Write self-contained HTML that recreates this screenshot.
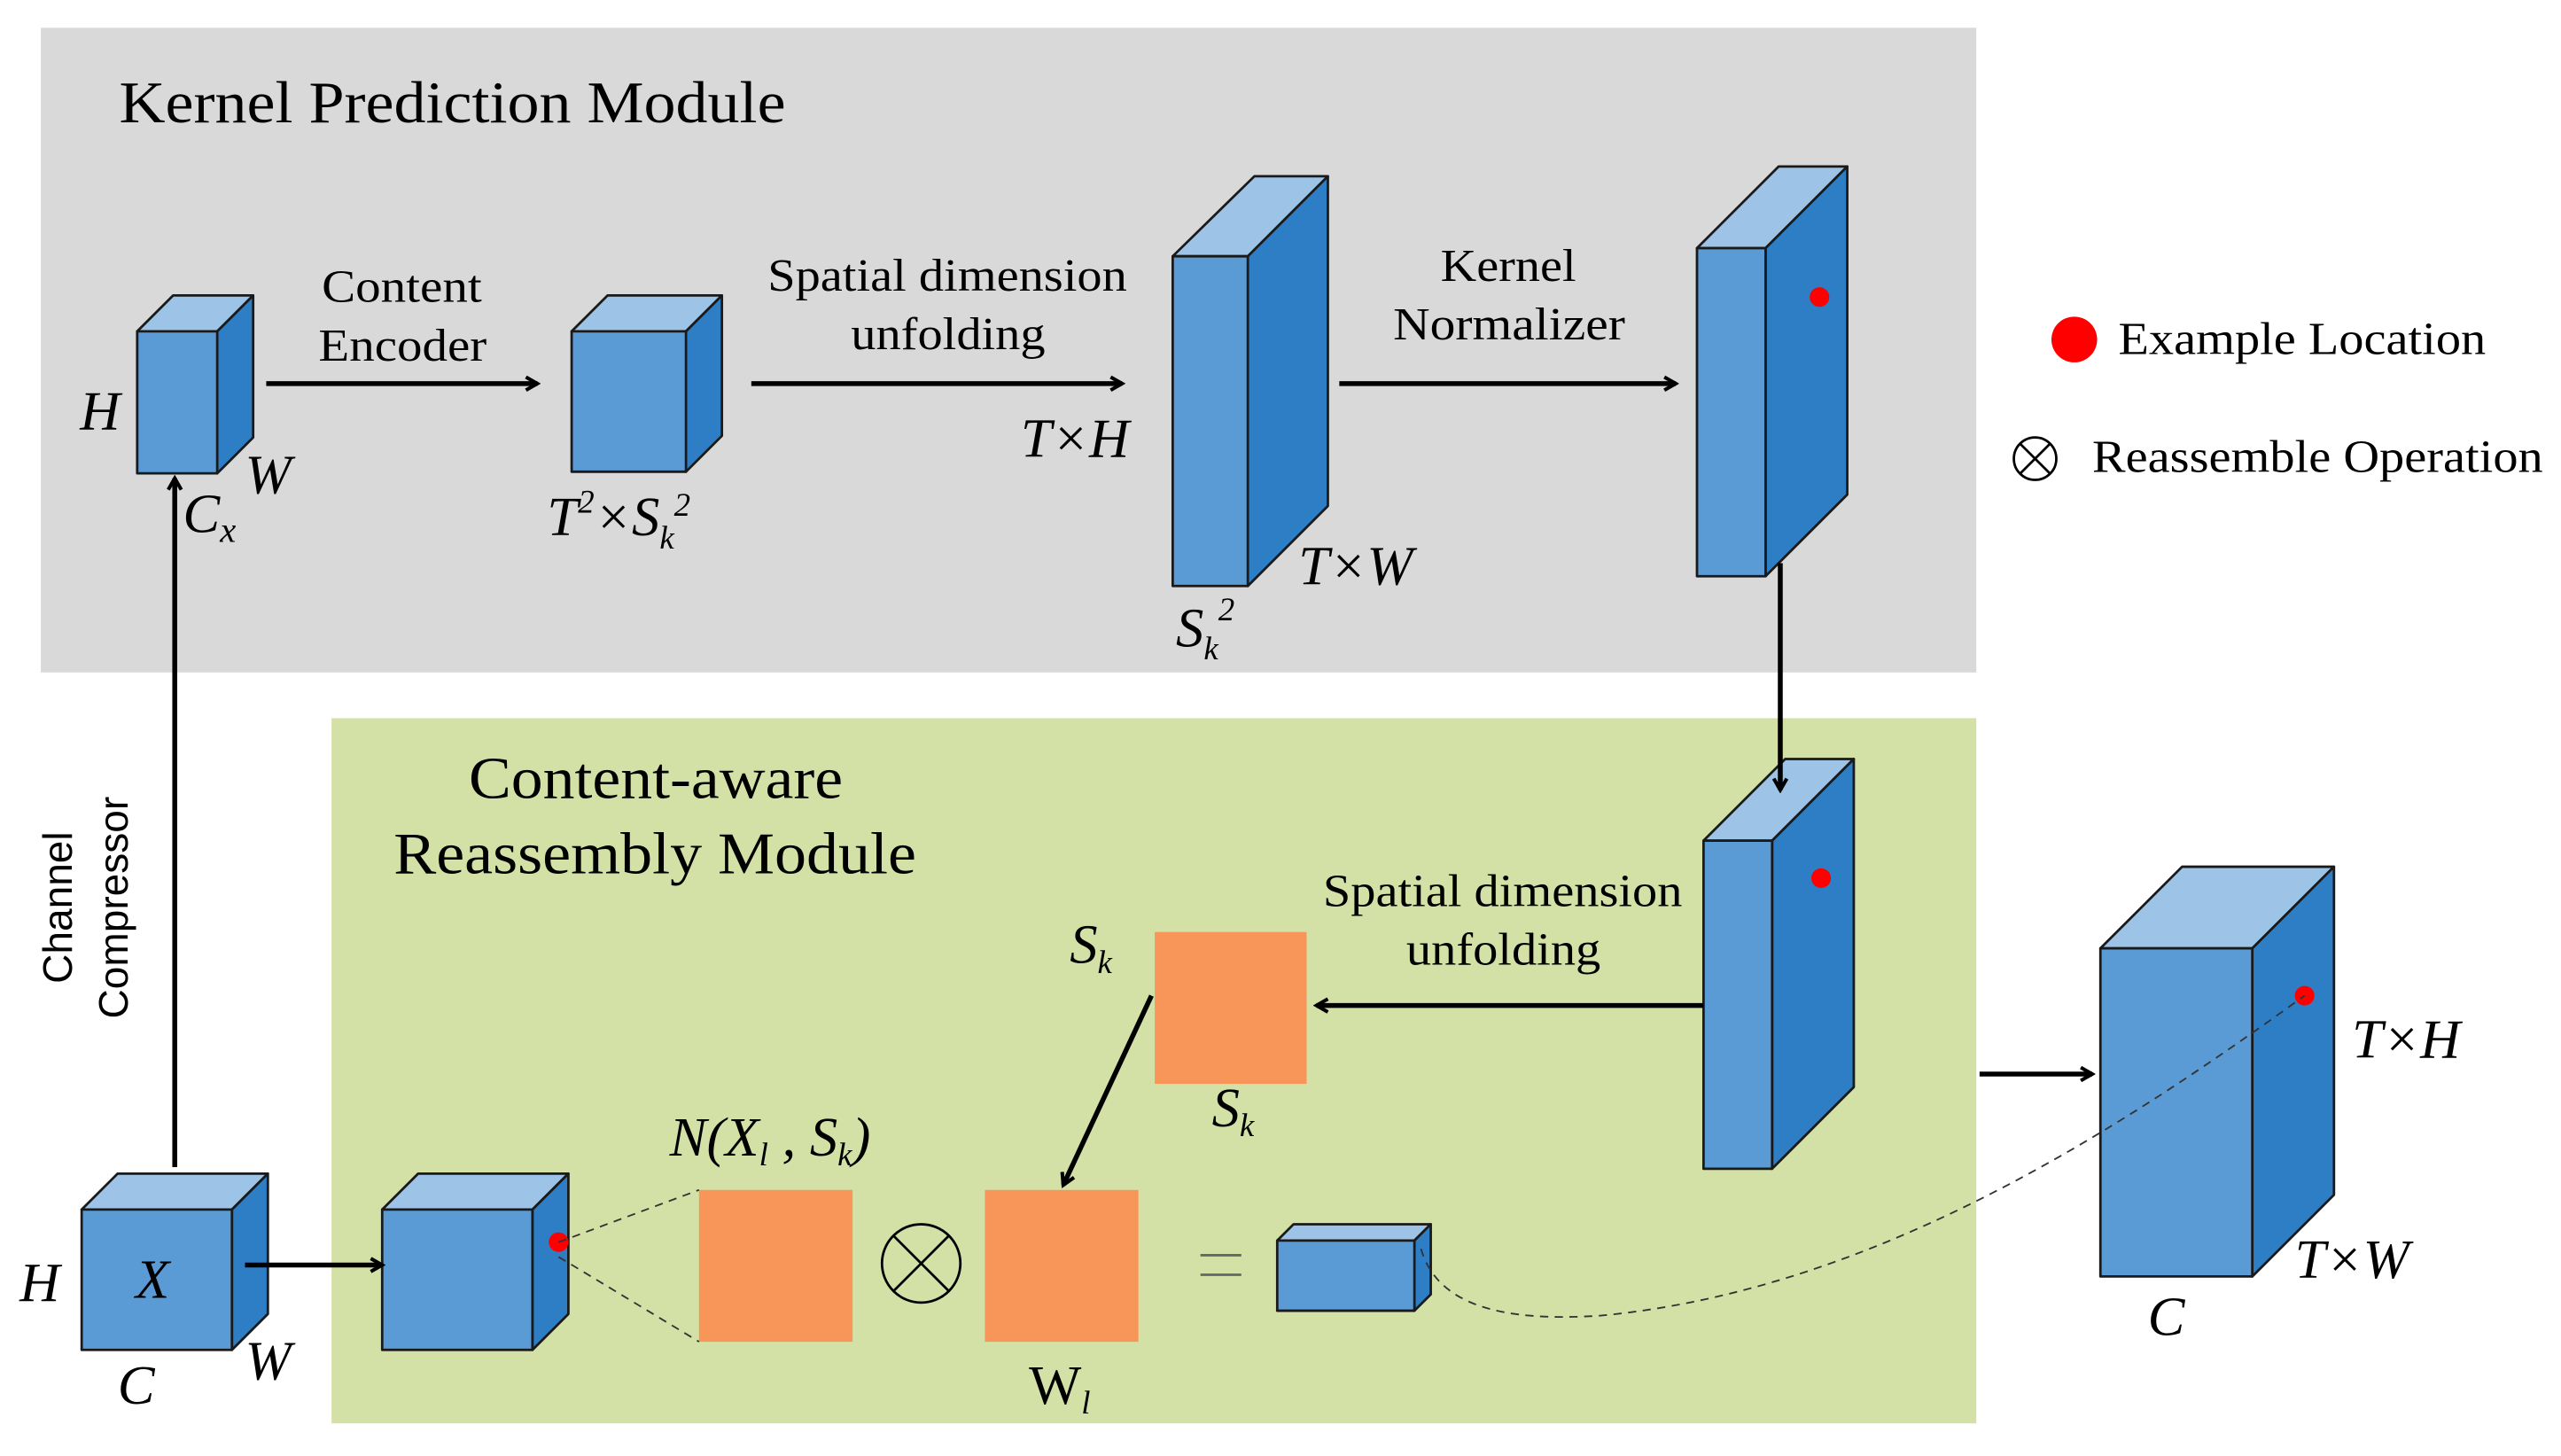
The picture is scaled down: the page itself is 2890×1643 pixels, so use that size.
<!DOCTYPE html>
<html><head><meta charset="utf-8"><style>
html,body{margin:0;padding:0;background:#fff;}
svg{display:block;}
svg text{font-family:"Liberation Serif","Times New Roman",Times,serif;fill:#000;}
svg text.sans{font-family:"Liberation Sans",Arial,sans-serif;}
.it{font-style:italic;}
</style></head><body>
<svg width="2890" height="1643" viewBox="0 0 1568 892" preserveAspectRatio="none" xmlns="http://www.w3.org/2000/svg" font-family="Liberation Serif, serif">
<defs>
<marker id="ah" markerWidth="10" markerHeight="10" refX="8" refY="5" orient="auto" markerUnits="userSpaceOnUse">
<path d="M1,1 L8,5 L1,9" fill="none" stroke="#000" stroke-width="2.2"/>
</marker>
</defs>
<rect x="25" y="17" width="1185" height="395" fill="#d9d9d9"/>
<rect x="203" y="440" width="1007" height="432" fill="#d3e0a6"/>

<text x="73" y="75" font-size="36" textLength="408" lengthAdjust="spacingAndGlyphs">Kernel Prediction Module</text>

<g stroke="#1a1a1a" stroke-width="1.5" stroke-linejoin="round">
<polygon points="84,203 106,181 155,181 133,203" fill="#9dc3e6"/>
<polygon points="133,203 155,181 155,268 133,290" fill="#2e7ec6"/>
<rect x="84" y="203" width="49" height="87" fill="#5b9bd5"/>
<polygon points="350,203 372,181 442,181 420,203" fill="#9dc3e6"/>
<polygon points="420,203 442,181 442,267 420,289" fill="#2e7ec6"/>
<rect x="350" y="203" width="70" height="86" fill="#5b9bd5"/>
<polygon points="718,157 768,108 813,108 764,157" fill="#9dc3e6"/>
<polygon points="764,157 813,108 813,310 764,359" fill="#2e7ec6"/>
<rect x="718" y="157" width="46" height="202" fill="#5b9bd5"/>
<polygon points="1039,152 1089,102 1131,102 1081,152" fill="#9dc3e6"/>
<polygon points="1081,152 1131,102 1131,303 1081,353" fill="#2e7ec6"/>
<rect x="1039" y="152" width="42" height="201" fill="#5b9bd5"/>
<polygon points="1043,515 1093,465 1135,465 1085,515" fill="#9dc3e6"/>
<polygon points="1085,515 1135,465 1135,666 1085,716" fill="#2e7ec6"/>
<rect x="1043" y="515" width="42" height="201" fill="#5b9bd5"/>
<polygon points="50,741 72,719 164,719 142,741" fill="#9dc3e6"/>
<polygon points="142,741 164,719 164,805 142,827" fill="#2e7ec6"/>
<rect x="50" y="741" width="92" height="86" fill="#5b9bd5"/>
<polygon points="234,741 256,719 348,719 326,741" fill="#9dc3e6"/>
<polygon points="326,741 348,719 348,805 326,827" fill="#2e7ec6"/>
<rect x="234" y="741" width="92" height="86" fill="#5b9bd5"/>
<polygon points="782,760 792,750 876,750 866,760" fill="#9dc3e6"/>
<polygon points="866,760 876,750 876,793 866,803" fill="#2e7ec6"/>
<rect x="782" y="760" width="84" height="43" fill="#5b9bd5"/>
<polygon points="1286,581 1336,531 1429,531 1379,581" fill="#9dc3e6"/>
<polygon points="1379,581 1429,531 1429,732 1379,782" fill="#2e7ec6"/>
<rect x="1286" y="581" width="93" height="201" fill="#5b9bd5"/>
</g>

<rect x="707" y="571" width="93" height="93" fill="#f8965a"/>
<rect x="428" y="729" width="94" height="93" fill="#f8965a"/>
<rect x="603" y="729" width="94" height="93" fill="#f8965a"/>

<circle cx="1114" cy="182" r="6" fill="#ff0000"/>
<circle cx="1115" cy="538" r="6" fill="#ff0000"/>
<circle cx="342" cy="761" r="6" fill="#ff0000"/>
<circle cx="1411" cy="610" r="6" fill="#ff0000"/>
<circle cx="1270" cy="208" r="14" fill="#ff0000"/>

<g stroke="#000" stroke-width="3" fill="none" marker-end="url(#ah)">
<line x1="163" y1="235" x2="329" y2="235"/>
<line x1="460" y1="235" x2="687" y2="235"/>
<line x1="820" y1="235" x2="1026" y2="235"/>
<line x1="1090" y1="345" x2="1090" y2="484"/>
<line x1="1043" y1="616" x2="806" y2="616"/>
<line x1="705" y1="610" x2="651" y2="726"/>
<line x1="107" y1="715" x2="107" y2="293"/>
<line x1="150" y1="775" x2="234" y2="775"/>
<line x1="1212" y1="658" x2="1281" y2="658"/>
</g>

<g stroke="#333" stroke-width="1" fill="none" stroke-dasharray="5,4">
<line x1="342" y1="761" x2="428" y2="729"/>
<line x1="342" y1="770" x2="428" y2="822"/>
<path d="M870,765 C880,800 920,810 980,806 C1150,790 1300,690 1411,610"/>
</g>

<g stroke="#000" stroke-width="1.5" fill="none">
<circle cx="564" cy="774" r="24"/>
<line x1="547" y1="757" x2="581" y2="791"/>
<line x1="581" y1="757" x2="547" y2="791"/>
<circle cx="1246" cy="281" r="13"/>
<line x1="1237" y1="272" x2="1255" y2="290"/>
<line x1="1255" y1="272" x2="1237" y2="290"/>
<line x1="735" y1="769" x2="760" y2="769" stroke="#666"/>
<line x1="735" y1="781" x2="760" y2="781" stroke="#666"/>
</g>

<g font-size="28" lengthAdjust="spacingAndGlyphs">
<text x="197" y="185" textLength="98" lengthAdjust="spacingAndGlyphs">Content</text>
<text x="195" y="221" textLength="103" lengthAdjust="spacingAndGlyphs">Encoder</text>
<text x="470" y="178" textLength="220" lengthAdjust="spacingAndGlyphs">Spatial dimension</text>
<text x="521" y="214" textLength="119" lengthAdjust="spacingAndGlyphs">unfolding</text>
<text x="882" y="172" textLength="83" lengthAdjust="spacingAndGlyphs">Kernel</text>
<text x="853" y="208" textLength="142" lengthAdjust="spacingAndGlyphs">Normalizer</text>
<text x="810" y="555" textLength="220" lengthAdjust="spacingAndGlyphs">Spatial dimension</text>
<text x="861" y="591" textLength="119" lengthAdjust="spacingAndGlyphs">unfolding</text>
<text x="1297" y="217" textLength="225" lengthAdjust="spacingAndGlyphs">Example Location</text>
<text x="1281" y="289" textLength="276" lengthAdjust="spacingAndGlyphs">Reassemble Operation</text>
</g>
<g font-size="36">
<text x="287" y="489" textLength="229" lengthAdjust="spacingAndGlyphs">Content-aware</text>
<text x="241" y="535" textLength="320" lengthAdjust="spacingAndGlyphs">Reassembly Module</text>
</g>
<g font-size="25" text-anchor="middle" font-family="Liberation Sans, sans-serif">
<text class="sans" transform="translate(44,556) rotate(-90)">Channel</text>
<text class="sans" transform="translate(78,556) rotate(-90)">Compressor</text>
</g>

<g font-size="34" class="it">
<text x="49" y="263">H</text>
<text x="150" y="302">W</text>
<text x="112" y="326">C<tspan font-size="22" dy="6">x</tspan></text>
<text x="335" y="328">T<tspan font-size="20" dy="-14">2</tspan><tspan dy="14">×S</tspan><tspan font-size="20" dy="8">k</tspan><tspan font-size="20" dy="-20">2</tspan></text>
<text x="625" y="280">T×H</text>
<text x="795" y="358">T×W</text>
<text x="720" y="396">S<tspan font-size="20" dy="8">k</tspan><tspan font-size="20" dy="-24">2</tspan></text>
<text x="655" y="590">S<tspan font-size="20" dy="6">k</tspan></text>
<text x="742" y="690">S<tspan font-size="20" dy="6">k</tspan></text>
<text x="410" y="708">N(X<tspan font-size="20" dy="6">l</tspan><tspan dy="-6"> , S</tspan><tspan font-size="20" dy="6">k</tspan><tspan dy="-6">)</tspan></text>
<text x="83" y="795">X</text>
<text x="12" y="797">H</text>
<text x="72" y="860">C</text>
<text x="150" y="845">W</text>
<text x="1440" y="648">T×H</text>
<text x="1405" y="783">T×W</text>
<text x="1315" y="818">C</text>
</g>
<text x="630" y="860" font-size="34">W<tspan font-size="20" dy="6" font-style="italic">l</tspan></text>
</svg>
</body></html>
